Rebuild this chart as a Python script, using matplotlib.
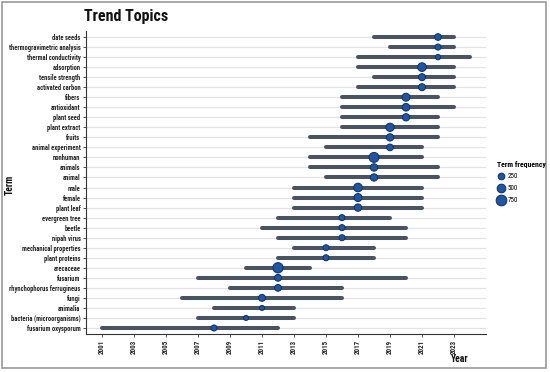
import matplotlib
matplotlib.use("Agg")
import matplotlib.pyplot as plt
from matplotlib.patches import Rectangle
from matplotlib.lines import Line2D

plt.rcParams['font.family'] = ['Roboto Condensed', 'DejaVu Sans']

terms = ["date seeds", "thermogravimetric analysis", "thermal conductivity", "adsorption",
         "tensile strength", "activated carbon", "fibers", "antioxidant", "plant seed",
         "plant extract", "fruits", "animal experiment", "nonhuman", "animals", "animal",
         "male", "female", "plant leaf", "evergreen tree", "beetle", "nipah virus",
         "mechanical properties", "plant proteins", "arecaceae", "fusarium",
         "rhynchophorus ferrugineus", "fungi", "animalia", "bacteria (microorganisms)",
         "fusarium oxysporum"]
year_q1 = [2018, 2019, 2017, 2017, 2018, 2017, 2016, 2016, 2016, 2016, 2014, 2015, 2014, 2014, 2015,
           2013, 2013, 2013, 2012, 2011, 2012, 2013, 2012, 2010, 2007, 2009, 2006, 2008, 2007, 2001]
year_q3 = [2023, 2023, 2024, 2023, 2023, 2023, 2022, 2023, 2022, 2022, 2022, 2021, 2021, 2022, 2022,
           2021, 2021, 2021, 2019, 2020, 2020, 2018, 2018, 2014, 2020, 2016, 2016, 2013, 2013, 2012]
year_med = [2022, 2022, 2022, 2021, 2021, 2021, 2020, 2020, 2020, 2019, 2019, 2019, 2018, 2018, 2018,
            2017, 2017, 2017, 2016, 2016, 2016, 2015, 2015, 2012, 2012, 2012, 2011, 2011, 2010, 2008]
freq = [250, 170, 80, 500, 290, 290, 410, 370, 330, 450, 330, 250, 660, 340, 330,
        490, 410, 330, 170, 170, 170, 160, 170, 700, 270, 260, 280, 40, 40, 170]
legend_vals = [250, 500, 750]
xticks = list(range(2001, 2024, 2))

W, H, DPI = 550, 372, 100
fig = plt.figure(figsize=(W / DPI, H / DPI), dpi=DPI)
fig.patch.set_facecolor('white')

fig.patches.append(Rectangle((2 / W, 4 / H), 544 / W, 366 / H, transform=fig.transFigure,
                             fill=False, edgecolor='#9a9a9a', linewidth=1.2))

ax = fig.add_axes([86 / W, 38 / H, 400 / W, 303 / H])

n = len(terms)
ypos = [n - i for i in range(n)]

def msize(f):
    d_px = 4.7 + 0.008 * f
    return (d_px * 72 / DPI) ** 2

for y in ypos:
    ax.axhline(y, color='#e3e3e3', linewidth=0.9, zorder=0)

lc = ax.hlines(ypos, year_q1, year_q3, color='#4a5361', linewidth=2.9, zorder=2)
lc.set_capstyle('round')
ax.scatter(year_med, ypos, s=[msize(f) for f in freq], color='#1f56a3',
           edgecolor='#0f2f63', linewidth=0.7, zorder=3)

ax.set_xlim(2000, 2025)
ax.set_ylim(0.4, n + 0.6)
ax.set_yticks(ypos)
ax.set_yticklabels(terms, fontsize=4.7, fontweight='bold', color='#222222')
ax.set_xticks(xticks)
ax.set_xticklabels([str(t) for t in xticks], rotation=90, fontsize=5.0,
                   fontweight='bold', color='#222222')
ax.tick_params(axis='both', length=2.5, width=0.6, color='#333333', pad=1.5)
for s in ['top', 'right']:
    ax.spines[s].set_visible(False)
for s in ['left', 'bottom']:
    ax.spines[s].set_color('#333333')
    ax.spines[s].set_linewidth(0.8)

fig.text(84 / W, 1 - 17 / H, "Trend Topics", fontsize=11.5, fontweight='bold',
         ha='left', va='center', color='#111111')
fig.text(10 / W, 1 - 185 / H, "Term", fontsize=7, fontweight='bold', rotation=90,
         ha='center', va='center', color='#111111')
fig.text(460 / W, 1 - 359 / H, "Year", fontsize=7, fontweight='bold',
         ha='center', va='center', color='#111111')

handles = [Line2D([], [], linestyle='none', marker='o', markersize=msize(v) ** 0.5,
                  markerfacecolor='#1f56a3', markeredgecolor='#0f2f63', markeredgewidth=0.7)
           for v in legend_vals]
leg = fig.legend(handles, [str(v) for v in legend_vals], title="Term frequency",
                 loc='upper left', bbox_to_anchor=(492 / W, 1 - 156 / H), frameon=False,
                 fontsize=5.0, title_fontsize=5.6, labelspacing=0.75, handletextpad=0.3,
                 handlelength=1.2, borderpad=0.2)
leg.get_title().set_fontweight('bold')
leg._legend_box.align = "left"

fig.savefig("out.png", dpi=DPI)
